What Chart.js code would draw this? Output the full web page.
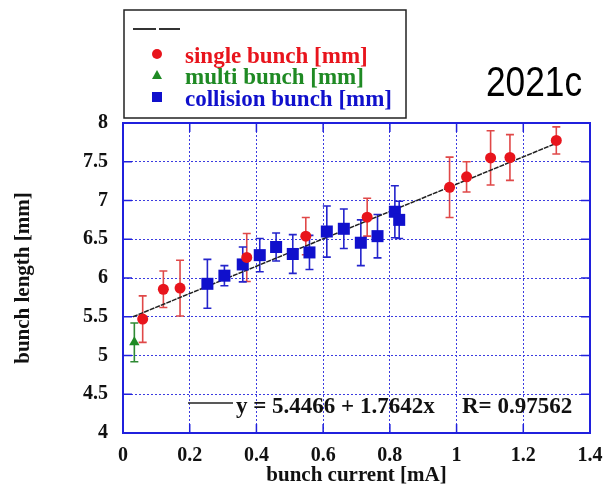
<!DOCTYPE html>
<html lang="en">
<head>
    <meta charset="UTF-8">
    <title>bunch length 2021c</title>
    <script src="https://cdn.jsdelivr.net/npm/chart.js@4.4.0/dist/chart.umd.min.js"></script>
    <style>
        body { margin: 0; background: #fff; }
        #wrap { width: 608px; height: 486px; }
    </style>
</head>
<body>
    <div id="wrap"><canvas id="recuadro" width="608" height="486"></canvas></div>

    <script>
        // datos
        const singleX   = [0.059, 0.121, 0.171, 0.371, 0.548, 0.732, 0.979, 1.030, 1.102, 1.160, 1.299];
        const singleY   = [5.47, 5.855, 5.87, 6.265, 6.54, 6.785, 7.17, 7.305, 7.55, 7.555, 7.775];
        const singleErr = [0.30, 0.235, 0.36, 0.31, 0.24, 0.245, 0.39, 0.195, 0.35, 0.295, 0.175];

        const multiX   = [0.034];
        const multiY   = [5.17];
        const multiErr = [0.25];

        const collisionX   = [0.253, 0.304, 0.359, 0.410, 0.459, 0.509, 0.559, 0.611, 0.662, 0.713, 0.763, 0.815, 0.828];
        const collisionY   = [5.925, 6.03, 6.175, 6.295, 6.40, 6.31, 6.33, 6.60, 6.635, 6.455, 6.54, 6.855, 6.75];
        const collisionErr = [0.315, 0.13, 0.225, 0.215, 0.18, 0.25, 0.22, 0.33, 0.255, 0.295, 0.28, 0.335, 0.24];

        // recta de ajuste (extremos leidos)
        const fitX = [0.03, 1.30];
        const fitY = [5.50, 7.74];

        const legendLabels = ['single bunch [mm]', 'multi bunch [mm]', 'collision bunch [mm]'];
        const fitText = 'y = 5.4466 + 1.7642x';
        const rText = 'R= 0.97562';
        const runLabel = '2021c';

        const serif = "'Liberation Serif', 'Times New Roman', serif";
        const ROJO = '#e8141c', VERDE = '#1f8a24', AZUL = '#1010cc';
        const GRID = '#3c3ce0';

        function puntos(xs, ys) {
            return xs.map((x, i) => ({x: x, y: ys[i]}));
        }

        // barras de error + marco + leyenda + textos
        const extras = {
            id: 'extras',
            beforeDatasetsDraw(chart) {
                const ctx = chart.ctx;
                const xs = chart.scales.x, ys = chart.scales.y;
                chart.data.datasets.forEach((ds, di) => {
                    if (!ds.errores) return;
                    ctx.save();
                    ctx.strokeStyle = ds.errColor;
                    ctx.lineWidth = 1.6;
                    ds.data.forEach((p, i) => {
                        const e = ds.errores[i];
                        const px = xs.getPixelForValue(p.x);
                        const top = ys.getPixelForValue(p.y + e);
                        const bot = ys.getPixelForValue(p.y - e);
                        ctx.beginPath();
                        ctx.moveTo(px, top); ctx.lineTo(px, bot);
                        ctx.moveTo(px - 4, top); ctx.lineTo(px + 4, top);
                        ctx.moveTo(px - 4, bot); ctx.lineTo(px + 4, bot);
                        ctx.stroke();
                    });
                    ctx.restore();
                });
            },
            afterDraw(chart) {
                const ctx = chart.ctx;
                const a = chart.chartArea;
                const xs = chart.scales.x, ys = chart.scales.y;
                ctx.save();

                // marco azul
                ctx.strokeStyle = '#2020dd';
                ctx.lineWidth = 2;
                ctx.strokeRect(a.left, a.top, a.right - a.left, a.bottom - a.top);

                // marcas hacia dentro
                ctx.lineWidth = 1.5;
                ctx.beginPath();
                xs.ticks.forEach(t => {
                    const px = xs.getPixelForValue(t.value);
                    ctx.moveTo(px, a.bottom); ctx.lineTo(px, a.bottom - 9);
                    ctx.moveTo(px, a.top); ctx.lineTo(px, a.top + 9);
                });
                ys.ticks.forEach(t => {
                    const py = ys.getPixelForValue(t.value);
                    ctx.moveTo(a.left, py); ctx.lineTo(a.left + 9, py);
                    ctx.moveTo(a.right, py); ctx.lineTo(a.right - 9, py);
                });
                ctx.stroke();

                // texto del ajuste
                ctx.strokeStyle = '#222';
                ctx.lineWidth = 1.5;
                ctx.beginPath();
                ctx.moveTo(188, 403); ctx.lineTo(233, 403);
                ctx.stroke();
                ctx.fillStyle = '#111';
                ctx.font = 'bold 23px ' + serif;
                ctx.textBaseline = 'alphabetic';
                ctx.textAlign = 'left';
                ctx.fillText(fitText, 236, 413);
                ctx.fillText(rText, 462, 413);

                // leyenda
                ctx.fillStyle = '#fff';
                ctx.fillRect(124, 10, 282, 108);
                ctx.strokeStyle = '#222';
                ctx.lineWidth = 1.5;
                ctx.strokeRect(124, 10, 282, 108);
                ctx.lineWidth = 2;
                ctx.strokeStyle = '#333';
                ctx.beginPath();
                ctx.moveTo(133, 29); ctx.lineTo(156, 29);
                ctx.moveTo(159, 29); ctx.lineTo(180, 29);
                ctx.stroke();

                const colores = [ROJO, VERDE, AZUL];
                const filas = [63, 84, 106];
                ctx.font = 'bold 23px ' + serif;
                legendLabels.forEach((txt, i) => {
                    const my = filas[i] - 9;
                    ctx.fillStyle = colores[i];
                    ctx.beginPath();
                    if (i === 0) {
                        ctx.arc(157, my, 5, 0, Math.PI * 2);
                    } else if (i === 1) {
                        ctx.moveTo(157, my - 5); ctx.lineTo(162, my + 4); ctx.lineTo(152, my + 4); ctx.closePath();
                    } else {
                        ctx.rect(152, my - 5, 10, 10);
                    }
                    ctx.fill();
                    ctx.fillText(txt, 185, filas[i]);
                });

                // etiqueta 2021c
                ctx.fillStyle = '#000';
                ctx.font = '42px ' + "'Liberation Sans', Arial, sans-serif";
                ctx.translate(486, 96);
                ctx.scale(0.84, 1);
                ctx.fillText(runLabel, 0, 0);
                ctx.restore();
            }
        };

        const etiqueta = v => String(Math.round(v * 10) / 10);

        const ctx = document.getElementById('recuadro').getContext('2d');
        const myChart = new Chart(ctx, {
            type: 'scatter',
            data: {
                datasets: [{
                    label: legendLabels[0],
                    data: puntos(singleX, singleY),
                    errores: singleErr,
                    errColor: '#e04848',
                    pointStyle: 'circle',
                    pointRadius: 5.5,
                    backgroundColor: ROJO,
                    borderColor: ROJO,
                    borderWidth: 0,
                    order: 0
                }, {
                    label: legendLabels[1],
                    data: puntos(multiX, multiY),
                    errores: multiErr,
                    errColor: '#2e8a34',
                    pointStyle: 'triangle',
                    pointRadius: 6,
                    backgroundColor: VERDE,
                    borderColor: VERDE,
                    borderWidth: 0,
                    order: 0
                }, {
                    label: legendLabels[2],
                    data: puntos(collisionX, collisionY),
                    errores: collisionErr,
                    errColor: '#2424cc',
                    pointStyle: 'rect',
                    pointRadius: 8.5,
                    backgroundColor: AZUL,
                    borderColor: AZUL,
                    borderWidth: 0,
                    order: 0
                }, {
                    type: 'line',
                    label: 'fit',
                    data: puntos(fitX, fitY),
                    borderColor: '#222',
                    borderWidth: 1.5,
                    borderDash: [5, 1],
                    pointRadius: 0,
                    fill: false,
                    order: 5
                }]
            },
            options: {
                responsive: false,
                animation: false,
                layout: { padding: { top: 123, right: 18, bottom: 0, left: 0 } },
                plugins: {
                    legend: { display: false },
                    tooltip: { enabled: false }
                },
                scales: {
                    x: {
                        type: 'linear',
                        min: 0, max: 1.4,
                        afterFit: s => { s.height = 53; s.paddingLeft = 0; s.paddingRight = 0; },
                        ticks: {
                            stepSize: 0.2,
                            padding: 11,
                            color: '#111',
                            callback: etiqueta,
                            font: { family: serif, size: 20, weight: 'bold' }
                        },
                        grid: { color: GRID, lineWidth: 1, drawTicks: false },
                        border: { display: false, dash: [2, 2] },
                        title: {
                            display: true,
                            text: 'bunch current [mA]',
                            color: '#111',
                            padding: { top: 0, bottom: 0 },
                            font: { family: serif, size: 21, weight: 'bold', lineHeight: 1.0 }
                        }
                    },
                    y: {
                        min: 4, max: 8,
                        afterFit: s => { s.width = 123; },
                        ticks: {
                            stepSize: 0.5,
                            padding: 15,
                            color: '#111',
                            callback: etiqueta,
                            font: { family: serif, size: 20, weight: 'bold' }
                        },
                        grid: { color: GRID, lineWidth: 1, drawTicks: false },
                        border: { display: false, dash: [2, 2] },
                        title: {
                            display: true,
                            text: 'bunch length [mm]',
                            color: '#111',
                            padding: { top: 11, bottom: 0 },
                            font: { family: serif, size: 21, weight: 'bold' }
                        }
                    }
                }
            },
            plugins: [extras]
        });
    </script>
</body>
</html>
